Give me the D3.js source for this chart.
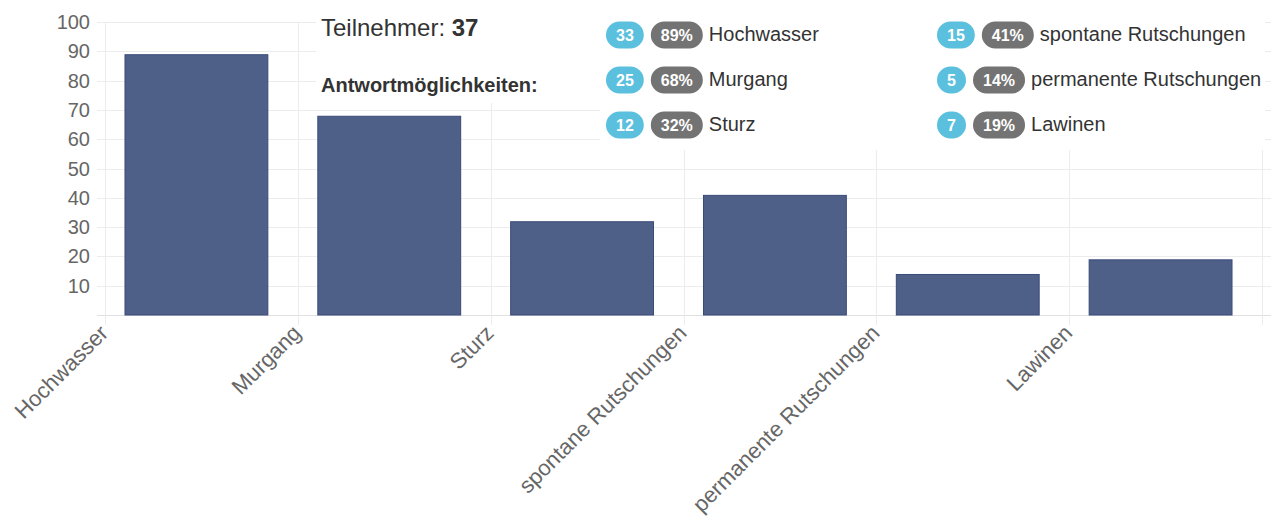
<!DOCTYPE html>
<html>
<head>
<meta charset="utf-8">
<script src="https://cdn.jsdelivr.net/npm/d3@7"></script>
<style>
  body { margin: 0; background: #fff; }
  svg { display: block; font-family: "Liberation Sans", Arial, sans-serif; }
</style>
</head>
<body>
<div id="chart"></div>
<script>
// data
var categories = ["Hochwasser", "Murgang", "Sturz", "spontane Rutschungen", "permanente Rutschungen", "Lawinen"];
var counts = [33, 25, 12, 15, 5, 7];
var percents = [89, 68, 32, 41, 14, 19];
var participants = 37;
var yTicks = [10, 20, 30, 40, 50, 60, 70, 80, 90, 100];

var W = 1278, H = 524;

var svg = d3.select("#chart").append("svg")
    .attr("width", W)
    .attr("height", H);

// scales
var y = d3.scaleLinear().domain([0, 100]).range([315, 22]);
var xGrid = d3.scaleBand().domain(categories).range([105, 1262]).padding(0);
var xBar = d3.scaleBand().domain(categories).range([100, 1257])
    .paddingInner(0.254).paddingOuter(0.127);

var grid = svg.append("g").attr("class", "grid");

// horizontal grid lines
grid.selectAll(".hline")
    .data([0].concat(yTicks))
    .enter().append("line")
    .attr("x1", 97).attr("x2", 1271)
    .attr("y1", function(d) { return Math.round(y(d)) + 0.5; })
    .attr("y2", function(d) { return Math.round(y(d)) + 0.5; })
    .attr("stroke", function(d) { return d === 0 ? "#e0e0e0" : "#ececec"; })
    .attr("stroke-width", 1);

// vertical grid lines at category boundaries
var bounds = categories.map(function(c) { return xGrid(c); }).concat([xGrid.range()[1]]);
grid.selectAll(".vline")
    .data(bounds)
    .enter().append("line")
    .attr("x1", function(d) { return Math.round(d) + 0.5; })
    .attr("x2", function(d) { return Math.round(d) + 0.5; })
    .attr("y1", 22).attr("y2", 325)
    .attr("stroke", "#ececec");

// y tick labels
svg.append("g").selectAll("text")
    .data(yTicks)
    .enter().append("text")
    .attr("x", 90)
    .attr("y", function(d) { return y(d); })
    .attr("dy", "0.35em")
    .attr("text-anchor", "end")
    .attr("font-size", 20)
    .attr("fill", "#666")
    .text(function(d) { return d; });

// bars
svg.append("g").selectAll("rect")
    .data(categories)
    .enter().append("rect")
    .attr("x", function(d) { return xBar(d) + 0.5; })
    .attr("y", function(d, i) { return y(percents[i]) + 0.5; })
    .attr("width", xBar.bandwidth() - 1)
    .attr("height", function(d, i) { return y(0) - y(percents[i]) - 0.5; })
    .attr("fill", "#4f6088")
    .attr("stroke", "#394a78")
    .attr("stroke-width", 1);

// rotated x labels, anchored at the left boundary of each category
svg.append("g").selectAll("text")
    .data(categories)
    .enter().append("text")
    .attr("transform", function(d) {
        return "translate(" + (xGrid(d) - 1) + ",329) rotate(-45)";
    })
    .attr("dy", "0.35em")
    .attr("text-anchor", "end")
    .attr("font-size", 22)
    .attr("fill", "#666")
    .text(function(d) { return d; });

// white legend panels covering the grid
svg.append("rect").attr("x", 316).attr("y", 0).attr("width", 290).attr("height", 103).attr("fill", "#fff");
svg.append("rect").attr("x", 600).attr("y", 0).attr("width", 665).attr("height", 150).attr("fill", "#fff");

var t = svg.append("text")
    .attr("x", 321).attr("y", 36)
    .attr("font-size", 24)
    .attr("fill", "#333");
t.append("tspan").text("Teilnehmer: ");
t.append("tspan").attr("font-weight", "bold").text(participants);

svg.append("text")
    .attr("x", 321).attr("y", 92)
    .attr("font-size", 20)
    .attr("font-weight", "bold")
    .attr("fill", "#333")
    .text("Antwortmöglichkeiten:");

// legend entries: badge with count, badge with percent, label
var colX = [606, 937];
var rowY = [35, 80, 125];
var badgeH = 27, pad = 10;

var legend = svg.append("g");
categories.forEach(function(c, i) {
    var g = legend.append("g")
        .attr("transform", "translate(" + colX[Math.floor(i / 3)] + "," + rowY[i % 3] + ")");

    function badge(x, txt, color) {
        var tx = g.append("text")
            .attr("y", 0)
            .attr("dy", "0.36em")
            .attr("text-anchor", "middle")
            .attr("font-size", 16)
            .attr("font-weight", "bold")
            .attr("fill", "#fff")
            .text(txt);
        var w = Math.max(badgeH + 2, tx.node().getComputedTextLength() + 2 * pad);
        g.insert("rect", "text")
            .attr("x", x).attr("y", -badgeH / 2)
            .attr("width", w).attr("height", badgeH)
            .attr("rx", badgeH / 2)
            .attr("fill", color);
        tx.attr("x", x + w / 2);
        return x + w;
    }

    var x1 = badge(0, counts[i], "#5bc0de");
    var x2 = badge(x1 + 7, percents[i] + "%", "#737373");
    g.append("text")
        .attr("x", x2 + 6)
        .attr("y", 0)
        .attr("dy", "0.3em")
        .attr("font-size", 20)
        .attr("fill", "#333")
        .text(c);
});
</script>
</body>
</html>
